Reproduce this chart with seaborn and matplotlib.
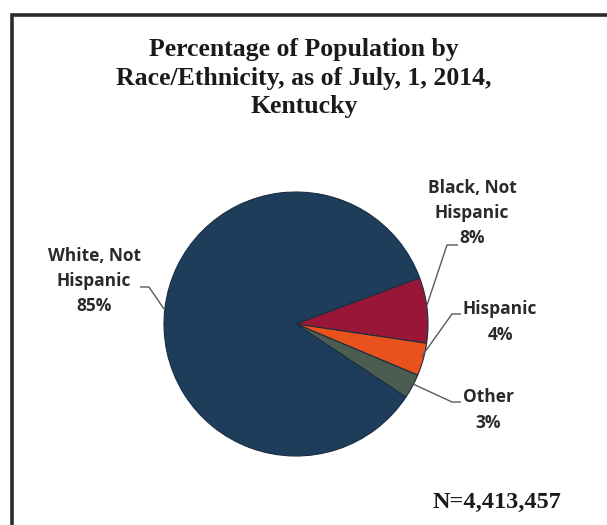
import matplotlib
matplotlib.use("Agg")
import matplotlib.pyplot as plt
import matplotlib.patches as mpatches
import seaborn as sns

# Population share by race/ethnicity, Kentucky, July 1, 2014
groups = ["White, Not\nHispanic", "Black, Not\nHispanic", "Hispanic", "Other"]
shares = [85, 8, 4, 3]
colors = ["#1e3d5b", "#9a1638", "#e9521c", "#4d5c50"]
title = "Percentage of Population by\nRace/Ethnicity, as of July, 1, 2014,\nKentucky"
note = "N=4,413,457"

sns.set_theme(style="white")
plt.rcParams["font.family"] = ["Open Sans", "DejaVu Sans"]

W, H = 607, 525
fig = plt.figure(figsize=(W / 100, H / 100), dpi=100)
ax = fig.add_axes([0, 0, 1, 1])

cx, cy, r = 296, H - 324, 132
wedges, _ = ax.pie(
    shares, colors=colors, startangle=-33.6, counterclock=False,
    center=(cx, cy), radius=r, frame=True,
    wedgeprops=dict(linewidth=0.8, edgecolor="#1a2c40"),
)
ax.set_xlim(0, W)
ax.set_ylim(0, H)
ax.set_aspect("equal")
ax.axis("off")

# frame around the chart
ax.add_patch(mpatches.Rectangle((12, -20), W + 20, H - 15 + 20, fill=False,
                                lw=2.6, edgecolor="#2b2b2b", clip_on=True))

ax.text(304, H - 78, title, ha="center", va="center", family="Liberation Serif",
        fontweight="bold", fontsize=18.5, linespacing=1.33, color="#1a1a1a")

# data labels with leader lines (label x, label y, line points)
label_pos = [
    (94, 281, [(140, 287), (149, 287), (164, 309)]),
    (472, 213, [(458, 245), (447, 245), (427, 305)]),
    (500, 322, [(461, 314), (452, 314), (422, 356)]),
    (488, 410, [(461, 402), (452, 402), (413, 384)]),
]
for name, val, (lx, ly, pts) in zip(groups, shares, label_pos):
    txt = f"{name}\n{val}%"
    ax.text(lx, H - ly, txt, ha="center", va="center", fontsize=12.5,
            fontweight="bold", color="#2a2a2a", linespacing=1.5)
    xs = [p[0] for p in pts]
    ys = [H - p[1] for p in pts]
    ax.plot(xs, ys, color="#5a5a5a", lw=1.0, solid_capstyle="butt")

ax.text(497, H - 502, note, ha="center", va="center", family="Liberation Serif",
        fontweight="bold", fontsize=17.5, color="#1a1a1a")

fig.savefig("out.png", dpi=100, facecolor="white")
